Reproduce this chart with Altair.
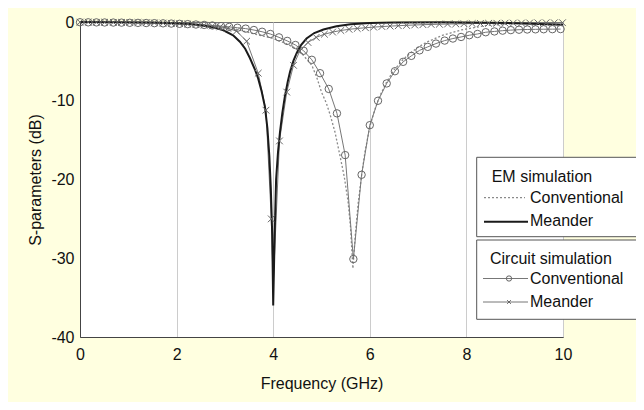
import altair as alt
import pandas as pd

# ---------------- data ----------------
# Circuit simulation, conventional (circle markers)
cc_freq = [0.00, 0.17, 0.34, 0.51, 0.69, 0.86, 1.03, 1.20, 1.37, 1.54, 1.72, 1.89,
           2.06, 2.23, 2.40, 2.57, 2.74, 2.92, 3.09, 3.26, 3.43, 3.60, 3.77, 3.94,
           4.12, 4.29, 4.46, 4.63, 4.80, 4.97, 5.15, 5.32, 5.49, 5.66, 5.83, 6.00,
           6.17, 6.35, 6.52, 6.69, 6.86, 7.03, 7.20, 7.37, 7.55, 7.72, 7.89, 8.06,
           8.23, 8.40, 8.58, 8.75, 8.92, 9.09, 9.26, 9.43, 9.60, 9.78, 9.95]
cc_db = [-0.03, -0.04, -0.05, -0.06, -0.07, -0.08, -0.10, -0.11, -0.13, -0.15, -0.17, -0.20,
         -0.23, -0.27, -0.32, -0.37, -0.44, -0.52, -0.62, -0.73, -0.84, -1.02, -1.24, -1.52,
         -1.95, -2.40, -2.92, -3.65, -4.80, -6.50, -8.50, -11.6, -16.9, -30.1, -19.4, -13.1,
         -10.0, -7.80, -6.25, -5.06, -4.30, -3.60, -3.16, -2.74, -2.36, -2.10, -1.90, -1.68,
         -1.52, -1.30, -1.20, -1.10, -1.03, -0.98, -0.95, -0.93, -0.92, -0.91, -0.90]

# Circuit simulation, meander (x markers); cm_mark = 1 where a marker is drawn
cm_freq = [0.00, 0.17, 0.34, 0.51, 0.69, 0.86, 1.03, 1.20, 1.37, 1.54, 1.72, 1.89,
           2.06, 2.23, 2.40, 2.57, 2.74, 2.90, 3.06, 3.24, 3.45, 3.69, 3.85, 3.96,
           4.00, 4.13, 4.28, 4.42, 4.55, 4.72, 4.89, 5.06, 5.23, 5.40, 5.57, 5.74,
           5.91, 6.08, 6.25, 6.42, 6.59, 6.76, 6.93, 7.10, 7.27, 7.44, 7.61, 7.78,
           7.95, 8.12, 8.29, 8.46, 8.63, 8.80, 8.97, 9.14, 9.31, 9.48, 9.65, 9.82, 9.99]
cm_db = [-0.02, -0.02, -0.03, -0.03, -0.04, -0.05, -0.06, -0.07, -0.09, -0.11, -0.14, -0.17,
         -0.21, -0.26, -0.32, -0.40, -0.50, -0.62, -0.80, -1.15, -2.44, -6.50, -11.2, -25.0,
         -33.5, -15.1, -8.90, -5.50, -3.70, -2.60, -1.95, -1.55, -1.28, -1.08, -0.93, -0.82,
         -0.73, -0.65, -0.58, -0.52, -0.47, -0.42, -0.38, -0.34, -0.31, -0.28, -0.26, -0.24,
         -0.22, -0.20, -0.18, -0.17, -0.16, -0.15, -0.14, -0.13, -0.12, -0.11, -0.10, -0.10, -0.09]
cm_mark = [1] * 24 + [0] + [1] * 36

# EM simulation, conventional (dotted)
ec_freq = [0.0, 0.5, 1.0, 1.5, 2.0, 2.5, 2.8, 3.0, 3.21, 3.45, 3.7, 4.0, 4.25, 4.45, 4.62,
           4.8, 4.9, 5.0, 5.1, 5.18, 5.28, 5.38, 5.47, 5.55, 5.6, 5.65, 5.7, 5.76, 5.83,
           5.9, 6.0, 6.1, 6.2, 6.35, 6.5, 6.7, 6.85, 7.0, 7.2, 7.5, 7.9, 8.4, 9.0, 9.5, 10.0]
ec_db = [-0.02, -0.04, -0.08, -0.15, -0.26, -0.42, -0.58, -0.72, -0.90, -1.25, -1.65, -2.1,
         -2.7, -3.3, -4.2, -5.5, -7.0, -8.9, -10.3, -11.8, -14.0, -16.9, -19.6, -22.8, -26.0,
         -31.3, -27.0, -23.0, -19.5, -16.5, -13.3, -11.2, -9.5, -7.6, -6.1, -4.7, -3.9, -3.2,
         -2.5, -1.7, -1.0, -0.45, -0.2, -0.12, -0.08]

# EM simulation, meander (solid)
em_freq = [0.0, 1.0, 1.5, 2.0, 2.3, 2.6, 2.8, 2.97, 3.17, 3.31, 3.42, 3.52, 3.62, 3.69,
           3.76, 3.83, 3.88, 3.92, 3.95, 3.98, 4.0, 4.03, 4.06, 4.1, 4.14, 4.19, 4.24, 4.3,
           4.35, 4.42, 4.49, 4.58, 4.69, 4.85, 5.04, 5.31, 5.6, 6.0, 6.5, 7.5, 8.5, 9.0, 9.5, 10.0]
em_db = [0.0, -0.03, -0.06, -0.15, -0.25, -0.5, -0.75, -1.05, -1.7, -2.5, -3.4, -4.6, -6.0,
         -7.2, -8.8, -10.8, -13.5, -17.0, -21.0, -27.0, -36.0, -27.0, -20.0, -16.5, -14.0,
         -11.5, -9.5, -7.6, -6.3, -4.9, -3.9, -2.9, -2.1, -1.4, -0.95, -0.55, -0.3, -0.12,
         -0.05, -0.03, -0.08, -0.15, -0.25, -0.35]

x_ticks = [0, 2, 4, 6, 8, 10]
y_ticks = [0, -10, -20, -30, -40]

x_title = "Frequency (GHz)"
y_title = "S-parameters (dB)"
legend_em = ["EM simulation", "Conventional", "Meander"]
legend_circ = ["Circuit simulation", "Conventional", "Meander"]

# ---------------- chart ----------------
FONT = "Liberation Sans"
X_CROSS = "M-1,-1L1,1M-1,1L1,-1"

cc = pd.DataFrame({"f": cc_freq, "db": cc_db})
cm = pd.DataFrame({"f": cm_freq, "db": cm_db, "mark": cm_mark})
ec = pd.DataFrame({"f": ec_freq, "db": ec_db})
em = pd.DataFrame({"f": em_freq, "db": em_db})

xs = alt.Scale(domain=[0, 10], nice=False, zero=False)
ys = alt.Scale(domain=[-40, 0], nice=False, zero=False)

X = alt.X("f:Q", scale=xs, axis=alt.Axis(
    values=x_ticks, title=x_title, grid=True, gridColor="#cccccc", ticks=False,
    labelPadding=9, labelBaseline="top", labelFlush=False, labelExpr="'' + datum.value",
    titleY=46, titleBaseline="middle", domainColor="#444444"))
Y = alt.Y("db:Q", scale=ys, axis=alt.Axis(
    values=y_ticks, title=y_title, grid=False, ticks=False, labelPadding=6,
    labelFlush=False, labelExpr="'' + datum.value",
    titleX=-45, titleBaseline="middle", titleAngle=-90, domainColor="#444444"))

enc = dict(x=X, y=Y)

ec_line = alt.Chart(ec).mark_line(color="#8a8a8a", strokeWidth=1.3, strokeDash=[2, 2]).encode(**enc)
em_line = alt.Chart(em).mark_line(color="#1a1a1a", strokeWidth=2).encode(**enc)
cc_line = alt.Chart(cc).mark_line(color="#777777", strokeWidth=1).encode(**enc)
cc_pts = alt.Chart(cc).mark_point(shape="circle", filled=False, size=55, color="#666666",
                                  strokeWidth=1, opacity=1).encode(**enc)
cm_line = alt.Chart(cm).mark_line(color="#777777", strokeWidth=1).encode(**enc)
cm_pts = alt.Chart(cm).transform_filter("datum.mark == 1").mark_point(
    shape=X_CROSS, filled=False, size=45, color="#666666", strokeWidth=1, opacity=1).encode(**enc)

one = pd.DataFrame({"k": [0]})


def box(x1, x2, y1, y2):
    return alt.Chart(one).mark_rect(fill="white", stroke="#555555", strokeWidth=1).encode(
        x=alt.value(x1), x2=alt.value(x2), y=alt.value(y1), y2=alt.value(y2))


def label(txt, x, y):
    return alt.Chart(one).mark_text(text=txt, align="left", baseline="middle", font=FONT,
                                    fontSize=16, color="#111111").encode(
        x=alt.value(x), y=alt.value(y))


def seg(x1, x2, y, color, width, dash=None):
    kw = dict(color=color, strokeWidth=width)
    if dash:
        kw["strokeDash"] = dash
    return alt.Chart(one).mark_rule(**kw).encode(x=alt.value(x1), x2=alt.value(x2), y=alt.value(y))


def sym(shape, x, y, size):
    return alt.Chart(one).mark_point(shape=shape, filled=False, size=size, color="#666666",
                                     strokeWidth=1, opacity=1).encode(x=alt.value(x), y=alt.value(y))


legend = [
    box(396.7, 556.7, 135.3, 214.7),
    label(legend_em[0], 411.7, 155),
    seg(404, 445, 175.7, "#8a8a8a", 1.3, [2, 2]),
    label(legend_em[1], 450, 175.5),
    seg(404, 448, 199.7, "#1a1a1a", 2),
    label(legend_em[2], 450, 199),
    box(396.7, 556.7, 218, 297.3),
    label(legend_circ[0], 410, 236.5),
    seg(403, 448, 256.5, "#777777", 1),
    sym("circle", 429, 256.5, 28),
    label(legend_circ[1], 450, 256.5),
    seg(403, 448, 280, "#777777", 1),
    sym(X_CROSS, 429, 280, 14),
    label(legend_circ[2], 450, 280),
]

chart = alt.layer(ec_line, cc_line, cm_line, em_line, cc_pts, cm_pts, *legend).properties(
    width=483, height=315, background="#FFFFE0",
    padding={"left": 72, "top": 14, "right": 73, "bottom": 65},
    autosize=alt.AutoSizeParams(type="none"),
).configure_view(stroke="#777777", strokeWidth=1, fill="white").configure_axis(
    labelFont=FONT, labelFontSize=16, labelColor="#111111",
    titleFont=FONT, titleFontSize=16, titleFontWeight="normal", titleColor="#111111",
)

chart.save("out.html", embed_options={"renderer": "svg", "actions": False})
